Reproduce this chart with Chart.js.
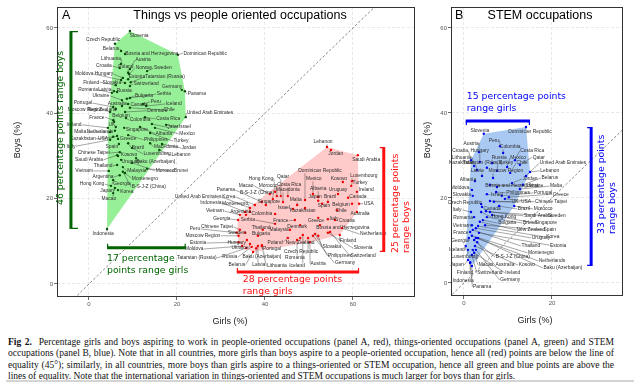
<!DOCTYPE html>
<html><head><meta charset="utf-8">
<script src="https://cdn.jsdelivr.net/npm/chart.js@4.4.1/dist/chart.umd.min.js"></script>
<style>
html,body{margin:0;padding:0;background:#fff;width:640px;height:382px;overflow:hidden;position:relative}
canvas{position:absolute;top:0}
#cA{left:0}
#cB{left:420px}
#cap{position:absolute;left:8px;top:337px;width:606px;font-family:'Liberation Serif',serif;font-size:9.3px;line-height:11.3px;color:#111}
#cap div{text-align:justify;text-align-last:justify;white-space:nowrap}
#cap div.last{text-align-last:left}
#rule{position:absolute;left:6px;width:628px;top:380px;height:2px;background:#d4d4d4}
</style></head><body>
<canvas id="cA" width="420" height="335"></canvas>
<canvas id="cB" width="220" height="335"></canvas>
<div id="cap">
<div><b>Fig 2.</b>&nbsp; Percentage girls and boys aspiring to work in people-oriented occupations (panel A, red), things-oriented occupations (panel A, green) and STEM</div>
<div>occupations (panel B, blue). Note that in all countries, more girls than boys aspire to a people-oriented occupation, hence all (red) points are below the line of</div>
<div>equality (45°); similarly, in all countries, more boys than girls aspire to a things-oriented or STEM occupation, hence all green and blue points are above the</div>
<div class="last">lines of equality. Note that the international variation in things-oriented and STEM occupations is much larger for boys than for girls.</div>
</div>
<div id="rule"></div>
<script>
// ---------- tick values ----------
const xTicksA = [0, 20, 40, 60];
const xTicksB = [0, 20];
const yTicks = [0, 20, 40, 60];

// ---------- things-oriented (green): [country, girls %, boys %] ----------
const greenData = [
["Slovenia",9.3,59.3],["Czech Republic",5.9,56.3],["Belarus",7.3,54.6],["Bosnia and Herzegovina",8.2,53.9],
["Dominican Republic",20.2,53.7],["Lithuania",7.3,51.6],["Austria",9.3,50.4],["Croatia",7.0,50.6],
["Poland",8.9,49.5],["Norway",9.1,49.2],["Sweden",13.2,49.9],["Moldova",7.3,47.8],
["Hungary",7.7,48.3],["Estonia",8.9,48.0],["Tatarstan (Russia)",9.5,47.3],["Finland",6.1,46.6],
["Slovakia",8.2,47.1],["Switzerland",9.3,46.4],["Germany",21.1,45.5],["Panama",21.8,45.2],
["Romania",5.2,44.8],["Latvia",5.7,45.2],["Russia",6.4,45.0],["Ukraine",7.5,43.1],
["Bulgaria",8.6,43.4],["Serbia",9.3,43.6],["Portugal",5.5,41.5],["Australia",7.5,41.7],
["Canada",8.9,42.2],["Peru",12.3,42.2],["Iceland",13.0,41.7],["Moscow Region",4.8,40.3],
["New Zealand",6.1,41.0],["Denmark",8.2,40.3],["Chile",9.3,41.3],["United Arab Emirates",22.0,39.1],
["France",5.5,38.4],["Belgium",5.7,38.0],["Colombia",8.4,38.9],["Costa Rica",12.7,39.1],
["Ireland",4.3,36.6],["UK",6.1,36.8],["Qatar",14.3,37.5],["Israel",17.5,37.3],
["Malta",4.8,35.6],["Netherlands",5.9,35.9],["Singapore",8.0,36.6],["Albania",11.6,36.8],
["Mexico",15.0,36.6],["Kazakhstan",5.5,34.5],["USA",6.4,34.7],["Greece",6.6,34.0],
["Philippines",8.9,34.9],["Turkey",13.9,35.4],["Italy",4.8,33.8],["Spain",6.8,32.8],
["Brazil",8.9,33.0],["Macedonia",13.9,33.0],["Jordan",16.6,32.8],["Chinese Taipei",7.0,30.9],
["Kosovo",6.6,30.0],["Luxembourg",9.8,31.9],["Lebanon",16.0,31.4],["Saudi Arabia",6.4,30.2],
["Uruguay",7.3,29.1],["Baku (Azerbaijan)",10.7,29.5],["Thailand",6.4,27.9],["Vietnam",4.5,26.5],
["Malaysia",7.7,27.4],["Morocco",9.8,28.4],["Brunei",13.2,27.0],["Argentina",7.0,25.5],
["Montenegro",8.2,26.0],["Hong Kong",5.0,23.0],["Georgia",5.5,24.4],["B-S-J-Z (China)",7.7,26.3],
["Japan",5.9,22.5],["Korea",6.6,22.0],["Macao",5.5,21.3],["Indonesia",4.1,12.9]
];
// label anchors (girls %, boys %), same order
const greenLabelPos = [
[11.4,58.1],[3.2,57.2],[5.0,55.1],[14.3,54.1],
[26.4,54.1],[5.0,52.7],[12.3,52.5],[3.4,51.1],
[8.4,50.9],[12.5,50.6],[16.8,50.6],[-1.1,49.2],
[3.4,49.2],[10.9,48.5],[17.3,48.5],[0.5,47.3],
[5.2,47.3],[13.0,46.9],[18.9,46.2],[24.5,44.5],
[-0.2,45.5],[3.6,45.5],[8.0,45.2],[2.7,44.1],
[12.5,44.1],[17.0,44.5],[-1.4,42.4],[6.4,42.2],
[11.4,42.0],[15.2,42.7],[19.3,42.2],[-0.9,40.8],
[3.0,40.8],[15.5,40.6],[18.2,40.8],[27.5,40.1],
[1.8,39.1],[7.3,39.4],[11.6,38.4],[18.0,38.7],
[-3.4,37.3],[5.2,37.3],[18.9,36.8],[21.8,36.8],
[-2.0,35.6],[2.5,35.6],[10.9,36.1],[17.0,35.2],
[22.3,35.2],[-1.4,34.0],[3.2,34.0],[8.9,34.0],
[15.2,33.8],[20.9,33.5],[-4.1,32.3],[5.2,32.3],
[11.1,31.9],[17.5,32.1],[22.7,31.9],[1.1,30.7],
[9.1,30.2],[15.5,30.5],[20.9,30.2],[0.0,29.1],
[9.5,28.6],[15.2,28.6],[3.2,27.7],[-1.1,26.5],
[10.9,26.5],[17.3,26.5],[20.9,26.5],[3.2,25.1],
[12.7,24.8],[0.7,23.4],[7.5,23.4],[13.6,22.7],
[4.1,21.8],[8.6,21.6],[4.5,19.9],[3.2,11.7]
];

// ---------- people-oriented (red): [country, girls %, boys %] ----------
const redData = [
["Lebanon",54.1,32.1],["Jordan",55.0,31.4],["Saudi Arabia",61.1,30.2],["Luxembourg",59.8,24.1],
["Kosovo",57.7,23.9],["Turkey",59.6,23.0],["Dominican Republic",49.1,19.7],["Mexico",50.9,21.1],
["Ireland",60.9,21.6],["Uruguay",56.6,21.1],["Albania",52.1,20.4],["Canada",58.9,20.2],
["Japan",52.1,19.5],["Brazil",54.3,19.2],["USA",61.4,18.8],["Belgium",59.8,18.8],
["Spain",53.0,18.8],["Chile",56.4,17.3],["Australia",60.9,16.9],["Kazakhstan",49.1,17.8],
["Malta",47.3,18.5],["Israel",46.4,17.6],["Costa Rica",45.2,20.6],["Qatar",43.6,20.6],
["Macedonia",44.1,19.2],["Hong Kong",42.3,21.6],["Macao",41.1,21.1],["Morocco",42.7,20.6],
["B-S-J-Z (China)",41.8,19.9],["Panama",39.3,19.2],["United Arab Emirates",36.6,17.8],["Korea",37.7,18.5],
["Singapore",40.2,18.5],["Indonesia",35.5,16.9],["Montenegro",36.6,16.9],["Vietnam",34.3,16.2],
["Argentina",35.7,16.2],["Colombia",42.3,16.4],["Georgia",33.9,15.0],["Serbia",42.3,14.1],
["France",46.8,15.0],["Greece",52.1,15.5],["Italy",54.3,15.2],["Croatia",55.9,15.0],
["Denmark",48.0,13.8],["Malaysia",45.7,12.7],["Peru",33.6,12.0],["Chinese Taipei",34.3,12.7],
["Thailand",39.5,12.7],["Bosnia and Herzegovina",52.5,13.8],["Netherlands",57.5,13.1],["Moscow Region",34.0,11.3],
["Sweden",35.5,12.0],["Bulgaria",38.4,11.3],["Poland",45.2,10.8],["New Zealand",48.0,10.8],
["Finland",57.0,11.5],["Estonia",34.0,9.8],["Hungary",35.9,10.3],["Moldova",34.8,8.9],
["Ukraine",36.6,9.4],["Portugal",39.3,9.1],["Czech Republic",49.8,10.8],["Slovakia",52.1,11.3],
["Slovenia",54.3,12.0],["Tatarstan (Russia)",35.7,8.4],["Russia",37.0,8.7],["Baku (Azerbaijan)",38.0,8.4],
["Romania",47.3,10.3],["Philippines",51.4,11.7],["Switzerland",54.8,12.2],["Belarus",37.3,7.5],
["Latvia",38.4,8.9],["Lithuania",39.3,8.9],["Iceland",48.6,11.5],["Austria",50.2,9.8],
["Germany",50.9,11.3]
];
const redLabelPos = [
[53.2,33.3],[56.1,30.5],[63.0,29.1],[62.5,25.3],
[56.8,24.8],[61.6,23.7],[52.5,26.5],[51.1,24.6],
[63.0,22.0],[56.6,22.0],[52.1,22.3],[61.1,20.4],
[51.4,20.4],[54.8,20.4],[63.6,18.8],[57.3,18.5],
[53.4,18.3],[57.3,17.1],[61.6,16.6],[48.6,17.1],
[47.0,19.7],[44.3,17.8],[45.5,23.2],[44.1,25.1],
[45.2,22.0],[39.1,24.8],[35.7,23.0],[40.7,23.0],
[38.2,21.3],[31.1,22.0],[24.8,20.4],[31.8,20.4],
[40.9,19.2],[27.7,19.0],[33.2,18.8],[28.6,17.1],
[34.5,16.9],[39.3,16.4],[30.2,15.2],[36.1,15.0],
[43.6,14.8],[51.6,14.8],[55.7,15.2],[58.6,14.8],
[47.3,13.4],[43.2,12.7],[24.1,12.9],[29.1,13.4],
[39.1,13.1],[57.7,13.1],[64.6,11.7],[25.9,11.3],
[33.6,12.0],[39.1,11.7],[42.3,9.8],[48.0,9.6],
[58.9,10.1],[24.8,9.6],[33.6,9.8],[23.9,8.2],
[34.3,8.4],[41.6,8.2],[48.2,7.5],[55.2,8.7],
[62.3,8.4],[24.5,6.1],[32.0,6.3],[39.3,6.3],
[46.8,6.1],[57.0,6.6],[62.3,6.6],[33.6,4.5],
[38.6,4.5],[42.7,4.2],[47.3,4.2],[52.1,4.7],
[58.2,4.9]
];

// ---------- STEM (blue): [country, girls %, boys %] ----------
const blueData = [
["Slovenia",4.5,35.1],["Dominican Republic",14.1,36.7],["Peru",8.2,32.2],["Austria",3.4,30.8],
["Colombia",8.9,30.6],["Croatia",1.6,28.9],["Hungary",3.6,28.5],["Costa Rica",11.6,28.9],
["Lithuania",2.3,27.5],["Russia",6.4,28.2],["Mexico",9.8,27.3],["Qatar",12.7,27.8],
["Kazakhstan",3.0,26.6],["Tatarstan (Russia)",5.2,27.1],["Turkey",7.5,26.4],["Chile",10.5,25.9],
["United Arab Emirates",14.1,25.2],["Latvia",4.1,25.2],["Moscow Region",6.6,24.7],["Lebanon",15.0,26.1],
["Albania",2.5,24.0],["Belarus",13.4,23.1],["Jordan",10.9,23.5],["Bosnia and Herzegovina",7.5,22.6],
["Ukraine",5.9,23.1],["Malta",12.7,22.1],["Moldova",1.8,21.9],["Slovakia",2.0,20.5],
["Israel",5.2,20.9],["Philippines",7.3,21.4],["Portugal",8.6,20.5],["Greece",10.2,20.2],
["Czech Republic",3.9,18.6],["UK",5.9,19.3],["USA",6.8,19.1],["Chinese Taipei",9.3,19.8],
["Italy",1.6,16.7],["Canada",4.1,17.9],["Brazil",8.0,18.1],["Morocco",11.4,18.1],
["Romania",2.3,15.5],["Hong Kong",3.9,16.7],["Saudi Arabia",5.0,16.9],["Sweden",5.9,16.7],
["Vietnam",1.8,13.6],["Bulgaria",4.3,14.8],["Brunei",5.2,15.5],["Singapore",6.4,16.0],
["France",1.4,12.0],["New Zealand",3.6,14.4],["Spain",4.8,13.6],["Uruguay",2.7,12.9],
["Korea",3.2,13.4],["Georgia",1.1,10.6],["Thailand",2.0,12.5],["Estonia",3.4,11.8],
["Iceland",0.4,8.7],["Montenegro",1.8,11.1],["Luxembourg",0.9,7.8],["B-S-J-Z (China)",2.3,10.1],
["Netherlands",2.7,10.6],["Japan",0.9,5.4],["Macao",2.0,7.8],["Australia",3.0,9.6],
["Kosovo",2.5,8.7],["Baku (Azerbaijan)",3.2,10.6],["Finland",1.4,4.9],["Switzerland",1.8,6.6],
["Ireland",2.3,7.1],["Germany",2.7,7.8],["Indonesia",1.8,4.0],["Panama",1.4,4.7]
];
const blueLabelPos = [
[3.6,35.8],[15.0,35.5],[6.8,33.6],[1.6,32.9],
[10.5,32.0],[-0.9,31.1],[3.6,31.1],[15.5,31.1],
[-0.5,29.6],[8.0,29.6],[12.3,29.4],[17.0,29.6],
[-0.5,28.2],[4.3,28.2],[9.5,28.2],[13.2,28.2],
[22.5,28.2],[3.0,26.4],[9.5,26.4],[19.5,26.4],
[0.9,24.2],[19.5,24.7],[15.0,24.5],[10.9,22.8],
[16.1,22.8],[20.9,22.8],[-0.9,22.4],[-0.5,20.9],
[7.5,20.7],[12.3,21.2],[18.0,21.2],[22.0,20.9],
[0.2,18.8],[11.6,19.1],[14.1,19.1],[19.8,19.1],
[-1.6,17.2],[6.4,17.4],[13.6,17.4],[18.0,17.4],
[-0.2,15.3],[9.1,15.5],[16.8,15.8],[21.1,15.8],
[-0.5,13.4],[9.8,14.1],[15.0,14.1],[18.6,14.1],
[-0.7,11.8],[15.2,12.5],[19.5,12.5],[17.5,10.6],
[20.2,10.8],[-0.9,9.9],[15.2,8.7],[21.4,8.9],
[-1.6,7.8],[17.5,7.1],[0.2,6.1],[11.1,6.1],
[20.0,5.2],[-1.6,4.2],[5.0,4.2],[9.3,4.2],
[14.3,4.2],[22.5,3.5],[0.2,2.4],[5.9,2.4],
[11.1,2.4],[10.5,0.7],[-0.2,0.5],[4.1,-0.9]
];

// ---------- caption fit: largest font where the longest line fits ----------
(function(){
  const cap=document.getElementById('cap');
  const lines=[...cap.children];
  const probe=document.createElement('span');
  probe.style.cssText='position:absolute;visibility:hidden;white-space:nowrap;font-family:"Liberation Serif",serif;font-size:10px';
  document.body.appendChild(probe);
  let maxW=0;
  lines.slice(0,3).forEach(l=>{probe.innerHTML=l.innerHTML;maxW=Math.max(maxW,probe.getBoundingClientRect().width);});
  document.body.removeChild(probe);
  const fs=Math.min(10,10*600/maxW);
  cap.style.fontSize=fs.toFixed(2)+'px';
})();

// ---------- helpers ----------
function convexHull(pts){
  const p = pts.slice().sort((a,b)=>a[0]-b[0]||a[1]-b[1]);
  const cr=(o,a,b)=>(a[0]-o[0])*(b[1]-o[1])-(a[1]-o[1])*(b[0]-o[0]);
  const lo=[],up=[];
  for(const q of p){while(lo.length>=2&&cr(lo[lo.length-2],lo[lo.length-1],q)<=0)lo.pop();lo.push(q);}
  for(let i=p.length-1;i>=0;i--){const q=p[i];while(up.length>=2&&cr(up[up.length-2],up[up.length-1],q)<=0)up.pop();up.push(q);}
  lo.pop();up.pop();return lo.concat(up);
}

function makePanelPlugin(cfg){
  return {
    id:'panel'+cfg.key,
    beforeDatasetsDraw(chart){
      const {ctx, chartArea:a, scales:{x,y}} = chart;
      ctx.save();
      ctx.beginPath(); ctx.rect(a.left,a.top,a.width,a.height); ctx.clip();
      for(const g of cfg.groups){
        const h = convexHull(g.data.map(r=>[r[1],r[2]]));
        ctx.beginPath();
        h.forEach((q,i)=>{const X=x.getPixelForValue(q[0]),Y=y.getPixelForValue(q[1]); if(i)ctx.lineTo(X,Y); else ctx.moveTo(X,Y);});
        ctx.closePath(); ctx.fillStyle=g.hull; ctx.fill();
      }
      // leader lines
      ctx.font = '4.9px "Liberation Sans"';
      ctx.strokeStyle='#3a3a3a'; ctx.lineWidth=0.45;
      for(const g of cfg.groups){
        g.data.forEach((r,i)=>{
          const lp=g.labels[i];
          const px=x.getPixelForValue(r[1]), py=y.getPixelForValue(r[2]);
          const lx=x.getPixelForValue(lp[0]), ly=y.getPixelForValue(lp[1]);
          const w=ctx.measureText(r[0]).width;
          let ex,ey;
          if(px>lx+w/2){ex=lx+w/2+0.5;ey=ly;}
          else if(px<lx-w/2){ex=lx-w/2-0.5;ey=ly;}
          else {ex=px;ey=py>ly?ly+2.4:ly-2.4;}
          if(Math.hypot(ex-px,ey-py)>2.5){ctx.beginPath();ctx.moveTo(px,py);ctx.lineTo(ex,ey);ctx.stroke();}
        });
      }
      ctx.restore();
    },
    afterDatasetsDraw(chart){
      const {ctx, chartArea:a, scales:{x,y}} = chart;
      ctx.save();
      // country labels
      ctx.font = '4.9px "Liberation Sans"';
      ctx.fillStyle='#2b2b2b'; ctx.textAlign='center'; ctx.textBaseline='middle';
      for(const g of cfg.groups){
        g.data.forEach((r,i)=>{
          const lp=g.labels[i];
          ctx.fillText(r[0], x.getPixelForValue(lp[0]), y.getPixelForValue(lp[1]));
        });
      }
      // range bars (extent taken from the series itself)
      for(const b of cfg.ranges){
        const vals=b.series.map(r=>b.axis==='x'?r[1]:r[2]);
        const lo=Math.min(...vals), hi=Math.max(...vals);
        ctx.strokeStyle=b.color; ctx.fillStyle=b.color;
        if(b.axis==='x'){
          const X1=x.getPixelForValue(lo), X2=x.getPixelForValue(hi), Y=y.getPixelForValue(b.at);
          ctx.lineWidth=3; ctx.beginPath(); ctx.moveTo(X1,Y); ctx.lineTo(X2,Y); ctx.stroke();
          ctx.lineWidth=1.2; ctx.beginPath();
          ctx.moveTo(X1+0.6,Y); ctx.lineTo(X1+0.6,Y+b.tick); ctx.moveTo(X2-0.6,Y); ctx.lineTo(X2-0.6,Y+b.tick); ctx.stroke();
          ctx.font='9.3px "DejaVu Sans"'; ctx.textAlign='left'; ctx.textBaseline='middle';
          b.text.forEach((t,k)=>ctx.fillText(t, X1+b.tdx, Y+b.tdy[k]));
        } else {
          const Y1=y.getPixelForValue(lo), Y2=y.getPixelForValue(hi), X=x.getPixelForValue(b.at);
          ctx.lineWidth=3; ctx.beginPath(); ctx.moveTo(X,Y1); ctx.lineTo(X,Y2); ctx.stroke();
          ctx.lineWidth=1.2; ctx.beginPath();
          ctx.moveTo(X,Y1-0.6); ctx.lineTo(X+b.tick,Y1-0.6); ctx.moveTo(X,Y2+0.6); ctx.lineTo(X+b.tick,Y2+0.6); ctx.stroke();
          ctx.font='9.3px "DejaVu Sans"'; ctx.textAlign='left'; ctx.textBaseline='middle';
          b.text.forEach((t,k)=>{
            ctx.save(); ctx.translate(X+b.tdx[k], Y1+b.tdy); ctx.rotate(-Math.PI/2);
            ctx.fillText(t,0,0); ctx.restore();
          });
        }
      }
      // panel border
      ctx.strokeStyle='#333'; ctx.lineWidth=1;
      ctx.strokeRect(Math.round(a.left)+0.5, Math.round(a.top)+0.5, Math.round(a.width)-1, Math.round(a.height)-1);
      // panel tag and title
      ctx.fillStyle='#000'; ctx.textBaseline='middle';
      ctx.font='12.5px "Liberation Sans"'; ctx.textAlign='left';
      ctx.fillText(cfg.tag, a.left+cfg.tagDx, a.top+9);
      ctx.textAlign='center';
      ctx.fillText(cfg.title, cfg.titleX, a.top+9);
      // axis titles
      ctx.font='9px "Liberation Sans"'; ctx.fillStyle='#1a1a1a';
      ctx.fillText('Girls (%)', cfg.xTitleX, a.bottom+25);
      ctx.save(); ctx.translate(cfg.yTitleX, cfg.yTitleY); ctx.rotate(-Math.PI/2);
      ctx.fillText('Boys (%)',0,0); ctx.restore();
      ctx.restore();
    }
  };
}

function scaleOpts(min,max,ticks,fitProp,fitVal){
  return {
    type:'linear', min:min, max:max,
    afterBuildTicks:s=>{s.ticks=ticks.map(v=>({value:v}));},
    afterFit:s=>{s[fitProp]=fitVal;},
    grid:{color:'#e2e2e2', lineWidth:0.8, tickLength:3, tickColor:'#444', tickWidth:0.8, drawTicks:true},
    border:{display:false, dash:[3,2]},
    ticks:{font:{family:'Liberation Sans', size:6}, color:'#555', padding:1, maxRotation:0, autoSkip:false}
  };
}

function pts(rows){return rows.map(r=>({x:r[1],y:r[2]}));}

const common = {
  responsive:false, animation:false, events:[],
  plugins:{legend:{display:false}, tooltip:{enabled:false}}
};

// ---------- Panel A ----------
new Chart(document.getElementById('cA'), {
  type:'scatter',
  data:{datasets:[
    {data:pts(greenData), pointRadius:1.2, pointBackgroundColor:'#0a4a0a', pointBorderWidth:0},
    {data:pts(redData), pointRadius:1.2, pointBackgroundColor:'#f00000', pointBorderWidth:0},
    {data:[{x:-10,y:-10},{x:90,y:90}], showLine:true, borderColor:'#666', borderWidth:0.8, borderDash:[2.5,2], pointRadius:0}
  ]},
  options:Object.assign({}, common, {
    layout:{padding:{left:0,right:5,top:7,bottom:0}},
    scales:{
      x:scaleOpts(-7.27,74.1,xTicksA,'height',38),
      y:scaleOpts(-3.05,64.92,yTicks,'width',57)
    }
  }),
  plugins:[makePanelPlugin({
    key:'A', tag:'A', tagDx:5, title:'Things vs people oriented occupations', titleX:240,
    xTitleX:230, yTitleX:18, yTitleY:140,
    groups:[{data:greenData,labels:greenLabelPos,hull:'#97ef97'},{data:redData,labels:redLabelPos,hull:'#ffcaca'}],
    ranges:[
      {series:greenData, axis:'y', at:-4.1, color:'#006400', tick:7, text:['46 percentage points range boys'], tdx:[-10], tdy:-24},
      {series:greenData, axis:'x', at:8.5, color:'#006400', tick:-4, text:['17 percentage','points range girls'], tdx:0, tdy:[10.5,22.5]},
      {series:redData, axis:'x', at:2.8, color:'#ff1010', tick:-4, text:['28 percentage points','range girls'], tdx:6, tdy:[7.5,19.5]},
      {series:redData, axis:'y', at:67.0, color:'#ff1010', tick:-4, text:['25 percentage points','range boys'], tdx:[12,23], tdy:1}
    ]
  })]
});

// ---------- Panel B ----------
new Chart(document.getElementById('cB'), {
  type:'scatter',
  data:{datasets:[
    {data:pts(blueData), pointRadius:1.2, pointBackgroundColor:'#0000f0', pointBorderWidth:0},
    {data:[{x:-10,y:-10},{x:90,y:90}], showLine:true, borderColor:'#666', borderWidth:0.8, borderDash:[2.5,2], pointRadius:0}
  ]},
  options:Object.assign({}, common, {
    layout:{padding:{left:0,right:17,top:7,bottom:0}},
    scales:{
      x:scaleOpts(-2.95,36.14,xTicksB,'height',39),
      y:scaleOpts(-3.06,64.94,yTicks,'width',31)
    }
  }),
  plugins:[makePanelPlugin({
    key:'B', tag:'B', tagDx:4, title:'STEM occupations', titleX:120,
    xTitleX:115, yTitleX:8, yTitleY:140,
    groups:[{data:blueData,labels:blueLabelPos,hull:'#a9c9f3'}],
    ranges:[
      {series:blueData, axis:'x', at:38.1, color:'#0000f5', tick:4, text:['15 percentage points','range girls'], tdx:1, tdy:[-24,-12.5]},
      {series:blueData, axis:'y', at:28.9, color:'#0000f5', tick:-4, text:['33 percentage points','range boys'], tdx:[10,21], tdy:-32}
    ]
  })]
});
</script>
</body></html>
